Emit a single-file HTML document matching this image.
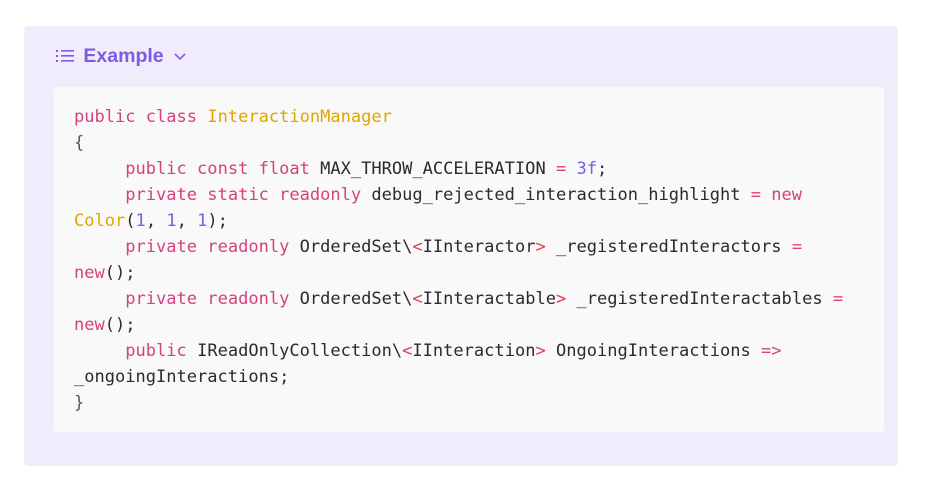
<!DOCTYPE html>
<html><head><style>
body{margin:0;background:#fff;width:934px;height:484px;position:relative;overflow:hidden}
.outer{position:absolute;left:24px;top:26px;width:874px;height:440px;background:#f0ecfb;border-radius:4px}
.hdr{position:absolute;left:56px;top:44px;font-family:"Liberation Sans",sans-serif;font-size:19.5px;color:#7b5ce5;font-weight:600;height:24px;line-height:24px}
.inner{position:absolute;left:54px;top:87px;width:830px;height:345px;background:#f9f9f9;border-radius:4px}
pre{position:absolute;left:74px;top:104px;margin:0;font-family:"DejaVu Sans Mono",monospace;font-size:17.05px;line-height:26px;color:#2b2b2b;white-space:pre}
.k{color:#d6417f}.c{color:#e0a500}.n{color:#7c5ce8}.r{color:#e5394f}.p{color:#555}
</style></head><body>
<div class="outer"></div>
<div class="hdr"><svg width="20" height="16" viewBox="0 0 20 16" style="vertical-align:-2px"><g fill="#7b5ce5"><rect x="0" y="2" width="2" height="2"/><rect x="0" y="7" width="2" height="2"/><rect x="0" y="12" width="2" height="2"/><rect x="5" y="2" width="13" height="1.6"/><rect x="5" y="7" width="13" height="1.6"/><rect x="5" y="12" width="13" height="1.6"/></g></svg> <span style="margin-left:2px">Example</span> <svg width="14" height="10" viewBox="0 0 14 10" style="margin-left:4px"><path d="M2 2 L7 7 L12 2" stroke="#7b5ce5" stroke-width="1.6" fill="none"/></svg></div>
<div class="inner"></div>
<pre><span class="k">public class</span> <span class="c">InteractionManager</span>
<span class="p">{</span>
     <span class="k">public const float</span> MAX_THROW_ACCELERATION <span class="k">=</span> <span class="n">3f</span>;
     <span class="k">private static readonly</span> debug_rejected_interaction_highlight <span class="k">= new</span>
<span class="c">Color</span>(<span class="n">1</span>, <span class="n">1</span>, <span class="n">1</span>);
     <span class="k">private readonly</span> OrderedSet\<span class="r">&lt;</span>IInteractor<span class="r">&gt;</span> _registeredInteractors <span class="k">=</span>
<span class="k">new</span>();
     <span class="k">private readonly</span> OrderedSet\<span class="r">&lt;</span>IInteractable<span class="r">&gt;</span> _registeredInteractables <span class="k">=</span>
<span class="k">new</span>();
     <span class="k">public</span> IReadOnlyCollection\<span class="r">&lt;</span>IInteraction<span class="r">&gt;</span> OngoingInteractions <span class="k">=&gt;</span>
_ongoingInteractions;
<span class="p">}</span></pre>
</body></html>
